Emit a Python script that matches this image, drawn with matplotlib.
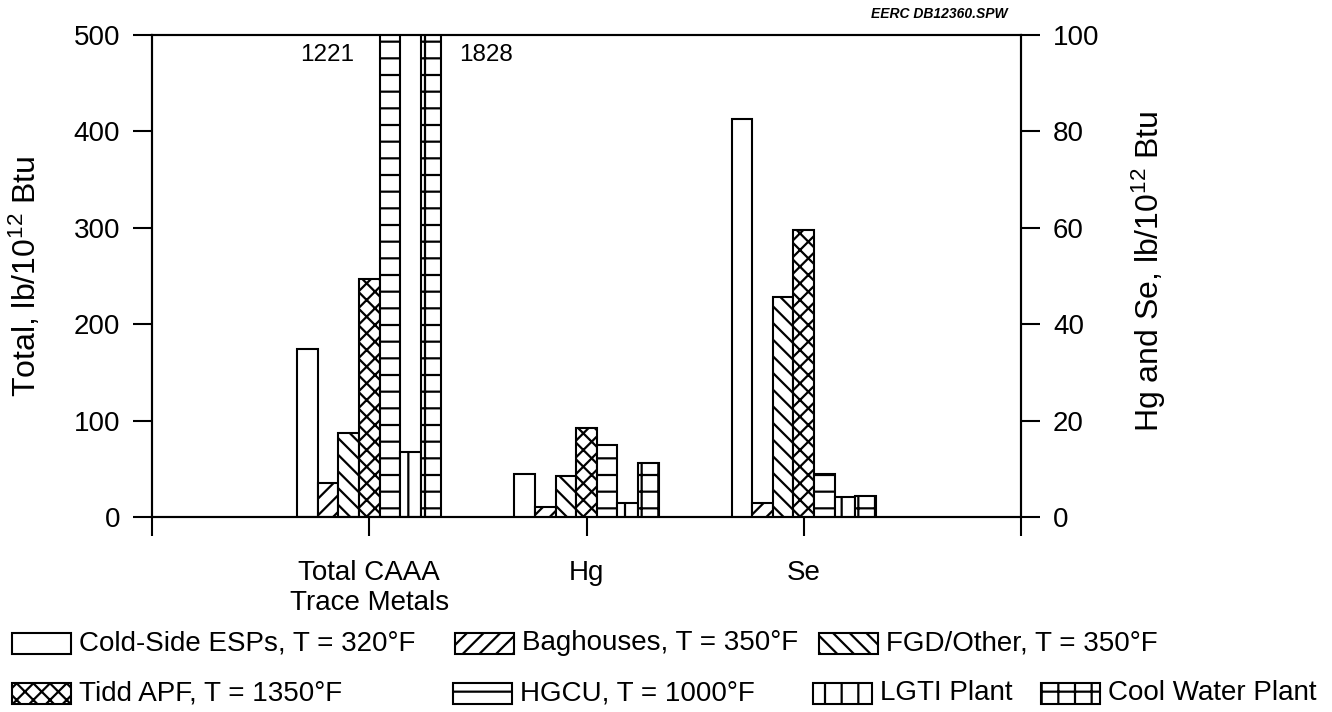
"""Trace-metal emissions by control technology (CAAA total on left axis, Hg/Se on right)."""
import numpy as np, matplotlib
matplotlib.use("Agg")
import matplotlib.pyplot as plt
from matplotlib.patches import Rectangle

plt.rcParams["font.family"] = ["Liberation Sans", "DejaVu Sans"]
plt.rcParams["mathtext.fontset"] = "custom"
plt.rcParams["mathtext.rm"] = "Liberation Sans"
plt.rcParams["mathtext.it"] = "Liberation Sans:italic"
plt.rcParams["hatch.linewidth"] = 1.6
plt.rcParams["hatch.color"] = "black"

# --- data ---
categories = ["Total CAAA\nTrace Metals", "Hg", "Se"]
systems = ["Cold-Side ESPs, T = 320°F", "Baghouses, T = 350°F", "FGD/Other, T = 350°F",
           "Tidd APF, T = 1350°F", "HGCU, T = 1000°F", "LGTI Plant", "Cool Water Plant"]
hatches = ["", "//", "\\\\", "xx", "-", "|", "+"]
total_caaa = [174, 35, 87, 247, 1221, 67, 1828]   # left axis
hg = [9.0, 2.0, 8.5, 18.5, 15.0, 3.0, 11.3]       # right axis
se = [82.6, 3.0, 45.6, 59.6, 9.0, 4.1, 4.4]       # right axis
off_scale = {4: "1221", 6: "1828"}                 # bars running off the top

INK = "black"
W, H = 1332, 712
FS = 20
fig = plt.figure(figsize=(W / 100, H / 100), dpi=100)
fig.patch.set_facecolor("white")
L, R, T, B = 152, 1021, 35, 517
ax = fig.add_axes([L / W, 1 - B / H, (R - L) / W, (B - T) / H])
ax2 = ax.twinx()

x = np.arange(1, len(categories) + 1)
w = 0.095
for i, (name, h) in enumerate(zip(systems, hatches)):
    off = (i - 3) * w
    kw = dict(width=w, facecolor="white", edgecolor=INK, linewidth=1.5, hatch=h)
    ax.bar(x[0] + off, total_caaa[i], **kw)
    ax2.bar(x[1:] + off, [hg[i], se[i]], **kw)

# labels for the two off-scale bars
ax.annotate(off_scale[4], xy=(x[0] + 0.5 * w, 479), xytext=(-18, 0),
            textcoords="offset points", ha="right", va="center", fontsize=17.5)
ax.annotate(off_scale[6], xy=(x[0] + 3.5 * w, 479), xytext=(13, 0),
            textcoords="offset points", ha="left", va="center", fontsize=17.5)

ax.set_xlim(0, 4)
ax.set_ylim(0, 500)
ax2.set_ylim(0, 100)
ax.set_xticks([0, 1, 2, 3, 4])
ax.set_xticklabels([""] + categories + [""], fontsize=FS)
ax.set_yticks(range(0, 501, 100))
ax2.set_yticks(range(0, 101, 20))
for a in (ax, ax2):
    a.tick_params(direction="out", length=14, width=1.5, labelsize=FS, colors=INK, pad=9)
    for s in a.spines.values():
        s.set_linewidth(1.5)
ax.tick_params(axis="x", pad=17)
ax.set_ylabel("Total, lb/10$^{12}$ Btu", fontsize=23)
ax2.set_ylabel("Hg and Se, lb/10$^{12}$ Btu", fontsize=23)
ax.yaxis.set_label_coords(-0.125, 0.5)
ax2.yaxis.set_label_coords(1.1254, 0.51)

fig.text(1008 / W, 1 - 14 / H, "EERC DB12360.SPW", ha="right", va="center",
         fontsize=10, style="italic", weight="bold")

# hand-placed legend, two rows as in the original
rows = [[(0, 12), (1, 455), (2, 819)], [(3, 12), (4, 453), (5, 813), (6, 1041)]]
row_y = [643, 693]
bw, bh = 59, 21
for yc, row in zip(row_y, rows):
    for i, x0 in row:
        fig.patches.append(Rectangle((x0 / W, 1 - (yc + bh / 2) / H), bw / W, bh / H,
                                     transform=fig.transFigure, facecolor="white",
                                     edgecolor=INK, linewidth=1.5, hatch=hatches[i]))
        fig.text((x0 + bw + 8) / W, 1 - yc / H, systems[i], ha="left", va="center",
                 fontsize=FS)

fig.savefig("out.png", dpi=100, facecolor="white")
print("ok")
